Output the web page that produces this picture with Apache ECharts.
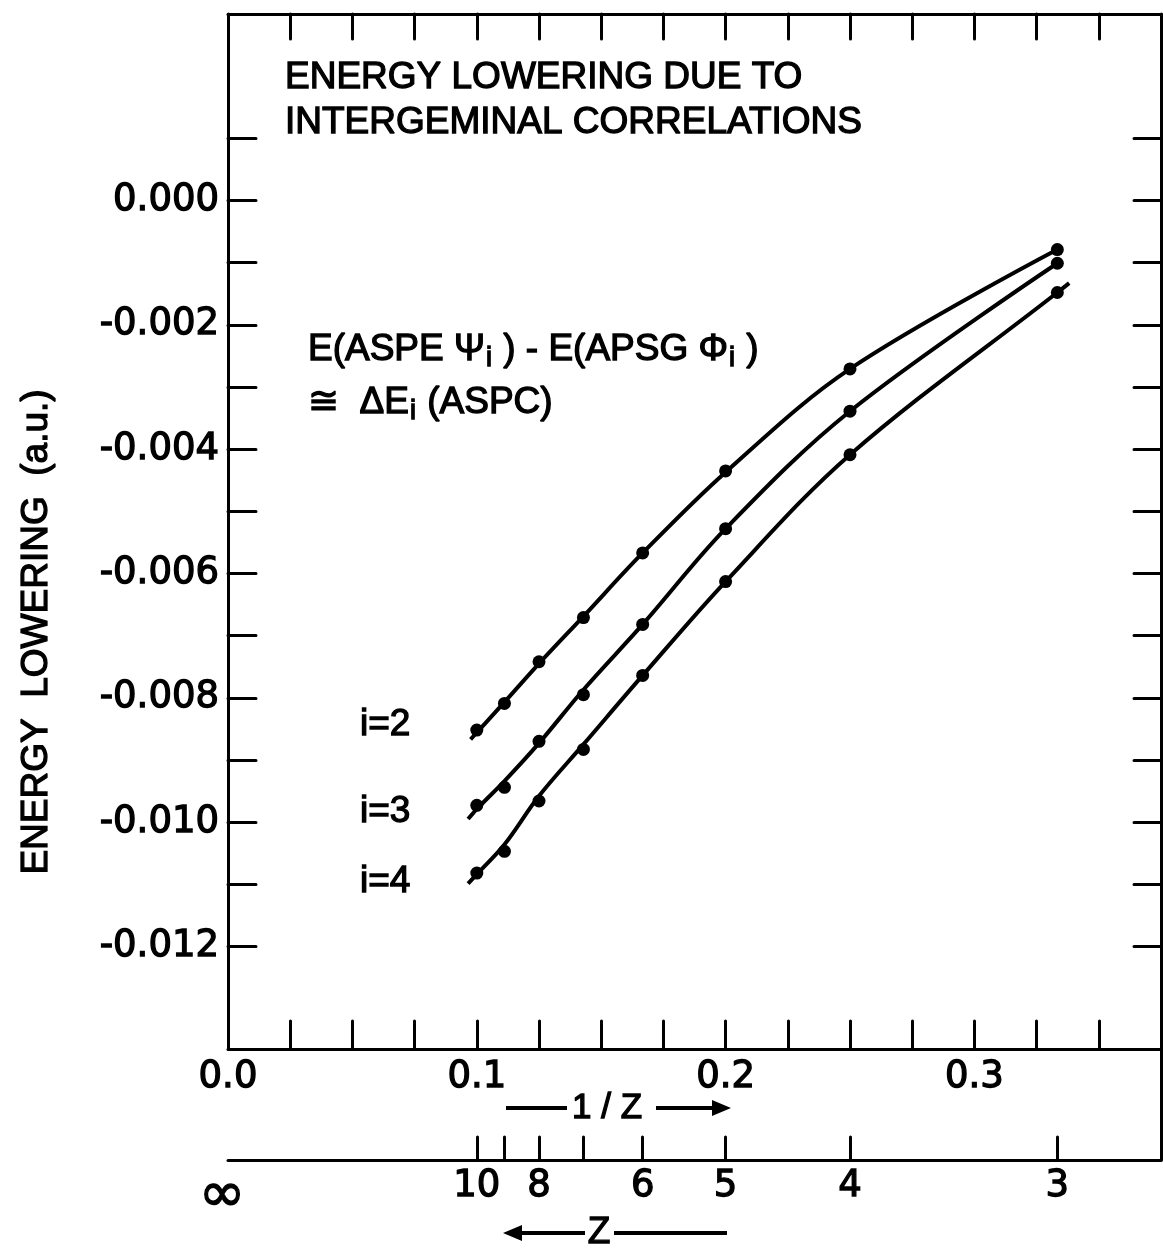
<!DOCTYPE html>
<html><head><meta charset="utf-8">
<script src="https://cdn.jsdelivr.net/npm/echarts@6/dist/echarts.min.js"></script>
<style>html,body{margin:0;padding:0;background:#fff}#c{width:1163px;height:1248px}</style>
</head><body><div id="c"></div>
<script>
// ---- data ----
const zValues = [10, 9, 8, 7, 6, 5, 4, 3];          // Z of each point (x = 1/Z)
const zLabeled = [Infinity, 10, 8, 6, 5, 4, 3];     // Z values carrying a label
// measured points (dots)
const e2 = [-0.00852, -0.00809, -0.00742, -0.00671, -0.00567, -0.00435, -0.00271, -0.00079];
const e3 = [-0.00973, -0.00944, -0.00870, -0.00795, -0.00682, -0.00528, -0.00339, -0.00101];
const e4 = [-0.01082, -0.01047, -0.00966, -0.00883, -0.00764, -0.00613, -0.00409, -0.00148];
// drawn curves at the same 1/Z positions
const curve2 = [-0.00856, -0.00807, -0.00745, -0.00669, -0.00567, -0.00437, -0.00271, -0.00079];
const curve3 = [-0.00979, -0.00934, -0.00873, -0.00787, -0.00682, -0.00528, -0.00339, -0.00101];
const curve4 = [-0.01084, -0.01036, -0.00958, -0.00875, -0.00764, -0.00613, -0.00409, -0.00148];
const curveStart2 = [0.0975, -0.00867];
const curveStart3 = [0.0965, -0.00995];
const curveStart4 = [0.0965, -0.01099];
const curveEnd4 = [0.3381, -0.00133];
const xTickValues = [0.025, 0.05, 0.075, 0.1, 0.125, 0.15, 0.175, 0.2, 0.225, 0.25, 0.275, 0.3, 0.325, 0.35];
const xLabelValues = [0, 0.1, 0.2, 0.3];
const yTickValues = [0.001, 0, -0.001, -0.002, -0.003, -0.004, -0.005, -0.006, -0.007, -0.008, -0.009, -0.010, -0.011, -0.012];
const yLabelValues = [0, -0.002, -0.004, -0.006, -0.008, -0.010, -0.012];

const NUM = '"DejaVu Sans"';
const TXT = '"Liberation Sans", "DejaVu Sans"';
const INK = '#000';
const BW = 1.3; // text stroke to mimic the heavy lettering

const pts = arr => zValues.map((z, k) => [1 / z, arr[k]]);
const lineStyle = {color: INK, width: 3, cap: 'round'};

const chart = echarts.init(document.getElementById('c'), null, {renderer: 'canvas'});

function tick(len, vals) {
  return {show: true, inside: true, length: len, lineStyle: lineStyle, customValues: vals};
}
const axLine = {show: true, onZero: false, lineStyle: lineStyle};
const numLabel = {fontSize: 37, fontFamily: NUM, color: INK, textBorderColor: INK, textBorderWidth: BW};

const curveSeries = (data) => ({
  type: 'line', xAxisIndex: 0, yAxisIndex: 0, data: data, smooth: 0.35,
  symbol: 'none', lineStyle: {color: INK, width: 4}, z: 3
});
const dotSeries = (data) => ({
  type: 'scatter', xAxisIndex: 0, yAxisIndex: 0, data: data, symbol: 'circle', symbolSize: 13,
  itemStyle: {color: INK, opacity: 1}, z: 4
});

const T = (text, x, y, extra) => ({
  type: 'text', x: x, y: y,
  style: Object.assign({text: text, fontSize: 37, fontFamily: TXT, fill: INK, stroke: INK, lineWidth: BW,
                        align: 'left', verticalAlign: 'middle'}, extra || {})
});
const L = (x1, y1, x2, y2) => ({type: 'line', shape: {x1, y1, x2, y2}, style: {stroke: INK, lineWidth: 4}});
const P = (points) => ({type: 'polygon', shape: {points}, style: {fill: INK}});
const sub = {fontSize: 27, fontFamily: TXT, fill: INK, stroke: INK, lineWidth: BW, padding: [18, 1, 0, 1]};

const option = {
  backgroundColor: '#fff',
  animation: false,
  grid: [
    {left: 228, top: 14, width: 933, height: 1035},
    {left: 228, top: 1049, width: 933, height: 111}
  ],
  xAxis: [
    {type: 'value', gridIndex: 0, position: 'bottom', min: 0, max: 0.375,
     axisLine: axLine, axisTick: tick(28, xTickValues), splitLine: {show: false},
     axisLabel: Object.assign({customValues: xLabelValues, margin: 10, formatter: v => v.toFixed(1)}, numLabel)},
    {type: 'value', gridIndex: 0, position: 'top', min: 0, max: 0.375,
     axisLine: axLine, axisTick: tick(25, xTickValues), splitLine: {show: false}, axisLabel: {show: false}},
    {type: 'value', gridIndex: 1, position: 'bottom', min: 0, max: 0.375,
     axisLine: axLine, axisTick: tick(23, zValues.map(z => 1 / z)), splitLine: {show: false},
     axisLabel: Object.assign({customValues: zLabeled.map(z => 1 / z), margin: 8,
                 formatter: v => v === 0 ? '{inf|\u221E}' : String(Math.round(1 / v)),
                 rich: {inf: {fontSize: 56, fontFamily: NUM, color: INK, textBorderColor: INK, textBorderWidth: BW, padding: [0, 12, 6, 0]}}}, numLabel)}
  ],
  yAxis: [
    {type: 'value', gridIndex: 0, position: 'left', min: -0.01365, max: 0.003,
     axisLine: axLine, axisTick: tick(28, yTickValues), splitLine: {show: false},
     axisLabel: Object.assign({customValues: yLabelValues, margin: 9,
                 formatter: v => (Math.abs(v) < 1e-9 ? '0.000' : v.toFixed(3))}, numLabel)},
    {type: 'value', gridIndex: 0, position: 'right', min: -0.01365, max: 0.003,
     axisLine: axLine, axisTick: tick(27, yTickValues), splitLine: {show: false}, axisLabel: {show: false}},
    {type: 'value', gridIndex: 1, position: 'right', min: 0, max: 1,
     axisLine: axLine, axisTick: {show: false}, splitLine: {show: false}, axisLabel: {show: false}}
  ],
  series: [
    curveSeries([curveStart2].concat(pts(curve2))),
    curveSeries([curveStart3].concat(pts(curve3))),
    curveSeries([curveStart4].concat(pts(curve4), [curveEnd4])),
    dotSeries(pts(e2)),
    dotSeries(pts(e3)),
    dotSeries(pts(e4))
  ],
  graphic: [
    T('ENERGY LOWERING DUE TO', 285, 78),
    T('INTERGEMINAL CORRELATIONS', 285, 123),
    T('E(ASPE \u03A8{s|i} ) - E(APSG \u03A6{s|i} )', 308, 350, {rich: {s: sub}}),
    T('\u2245  \u0394E{s|i} (ASPC)', 308, 403, {rich: {s: sub}}),
    T('i=2', 360, 725),
    T('i=3', 360, 812),
    T('i=4', 360, 882),
    Object.assign(T('ENERGY  LOWERING  (a.u.)', 37, 632, {align: 'center'}), {rotation: Math.PI / 2}),
    L(506, 1108, 567, 1108),
    T('1 / Z', 607, 1108, {align: 'center', fontSize: 35}),
    L(656, 1108, 716, 1108),
    P([[712, 1100], [731, 1108], [712, 1116]]),
    P([[503, 1233], [522, 1225], [522, 1241]]),
    L(520, 1233, 585, 1233),
    T('Z', 599, 1233, {align: 'center'}),
    L(614, 1233, 727, 1233)
  ]
};
chart.setOption(option);
</script></body></html>
